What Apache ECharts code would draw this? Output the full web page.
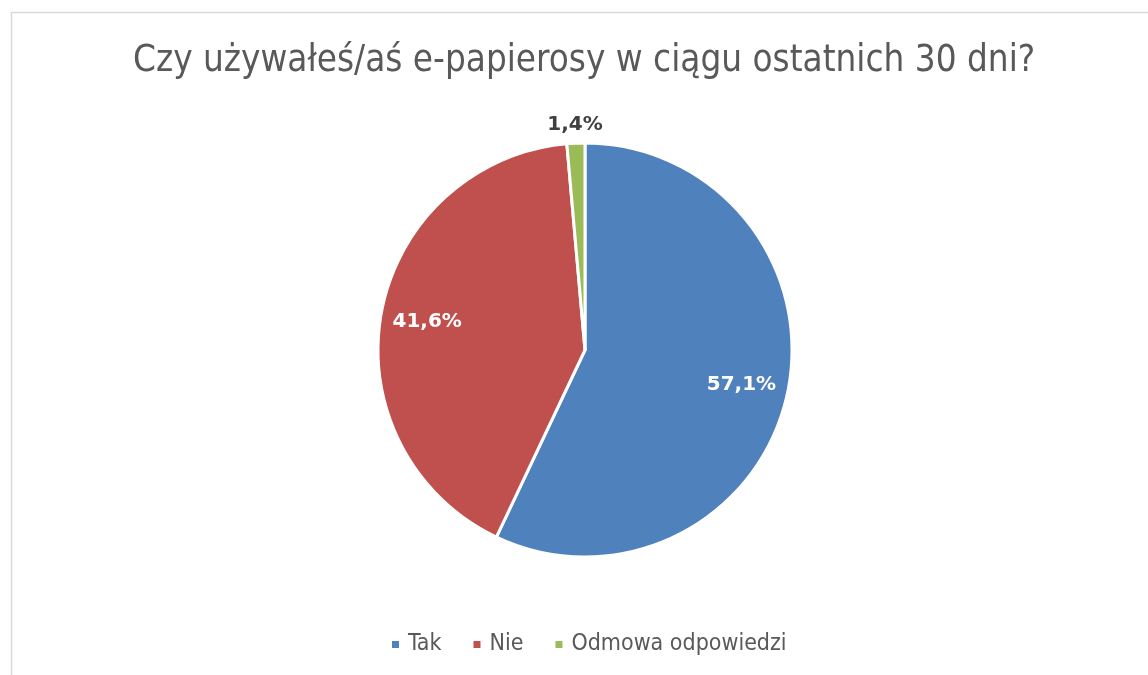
<!DOCTYPE html>
<html>
<head>
<meta charset="utf-8">
<script src="https://cdn.jsdelivr.net/npm/echarts@6/dist/echarts.min.js"></script>
<style>
html,body{margin:0;padding:0;background:#fff;}
#chart{width:1148px;height:675px;}
</style>
</head>
<body>
<div id="chart"></div>
<script>
const titleText = 'Czy używałeś/aś e-papierosy w ciągu ostatnich 30 dni?';
const categories = ['Tak', 'Nie', 'Odmowa odpowiedzi'];
const values = [57.1, 41.6, 1.4];
const colors = ['#4F81BD', '#C0504D', '#9BBB59'];

const FONT = '"DejaVu Sans Condensed", "DejaVu Sans", sans-serif';
const BFONT = '"DejaVu Sans", sans-serif';
const chart = echarts.init(document.getElementById('chart'), null, {renderer: 'canvas'});

const fmt = p => p.value.toFixed(1).replace('.', ',') + '%';
const pieData = categories.map((c, i) => ({name: c, value: values[i], itemStyle: {color: colors[i]}}));

const C = [585, 350];
const R = 207;

chart.setOption({
  animation: false,
  backgroundColor: '#fff',
  graphic: [{
    type: 'rect', left: 9, top: 10, shape: {width: 1160, height: 700},
    style: {fill: 'none', stroke: '#d9d9d9', lineWidth: 1.5}, silent: true, z: -10
  }],
  title: {
    text: titleText, left: 128, top: 38,
    textStyle: {fontFamily: FONT, fontSize: 36.5, fontWeight: 'normal', color: '#595959'}
  },
  legend: {
    bottom: 14, left: 385, itemWidth: 9, itemHeight: 9, itemGap: 30, icon: 'rect',
    data: categories,
    textStyle: {fontFamily: FONT, fontSize: 23, color: '#595959', padding: [0, 0, 0, 3]}
  },
  series: [
    {
      type: 'pie', center: C, radius: R, startAngle: 90, clockwise: true,
      silent: true,
      itemStyle: {borderColor: '#fff', borderWidth: 3},
      label: {show: false}, labelLine: {show: false},
      data: pieData
    },
    {
      type: 'pie', center: C, radius: [R * 0.5, R * 1.02], startAngle: 90, clockwise: true,
      silent: true, legendHoverLink: false,
      itemStyle: {color: 'transparent', borderWidth: 0},
      labelLine: {show: false},
      label: {show: true, position: 'inside', formatter: fmt,
        fontFamily: BFONT, fontSize: 20, fontWeight: 'bold', color: '#fff'},
      data: categories.map((c, i) => ({name: c + ' ', value: values[i],
        label: {show: i < 2}}))
    },
    {
      type: 'pie', center: C, radius: [R * 1.02, R * 1.13], startAngle: 90, clockwise: true,
      silent: true,
      itemStyle: {color: 'transparent', borderWidth: 0},
      labelLine: {show: false},
      label: {show: true, position: 'inside', formatter: fmt,
        fontFamily: BFONT, fontSize: 20, fontWeight: 'bold', color: '#404040'},
      data: categories.map((c, i) => ({name: c + '  ', value: values[i],
        label: {show: i === 2}}))
    }
  ]
});
</script>
</body>
</html>
